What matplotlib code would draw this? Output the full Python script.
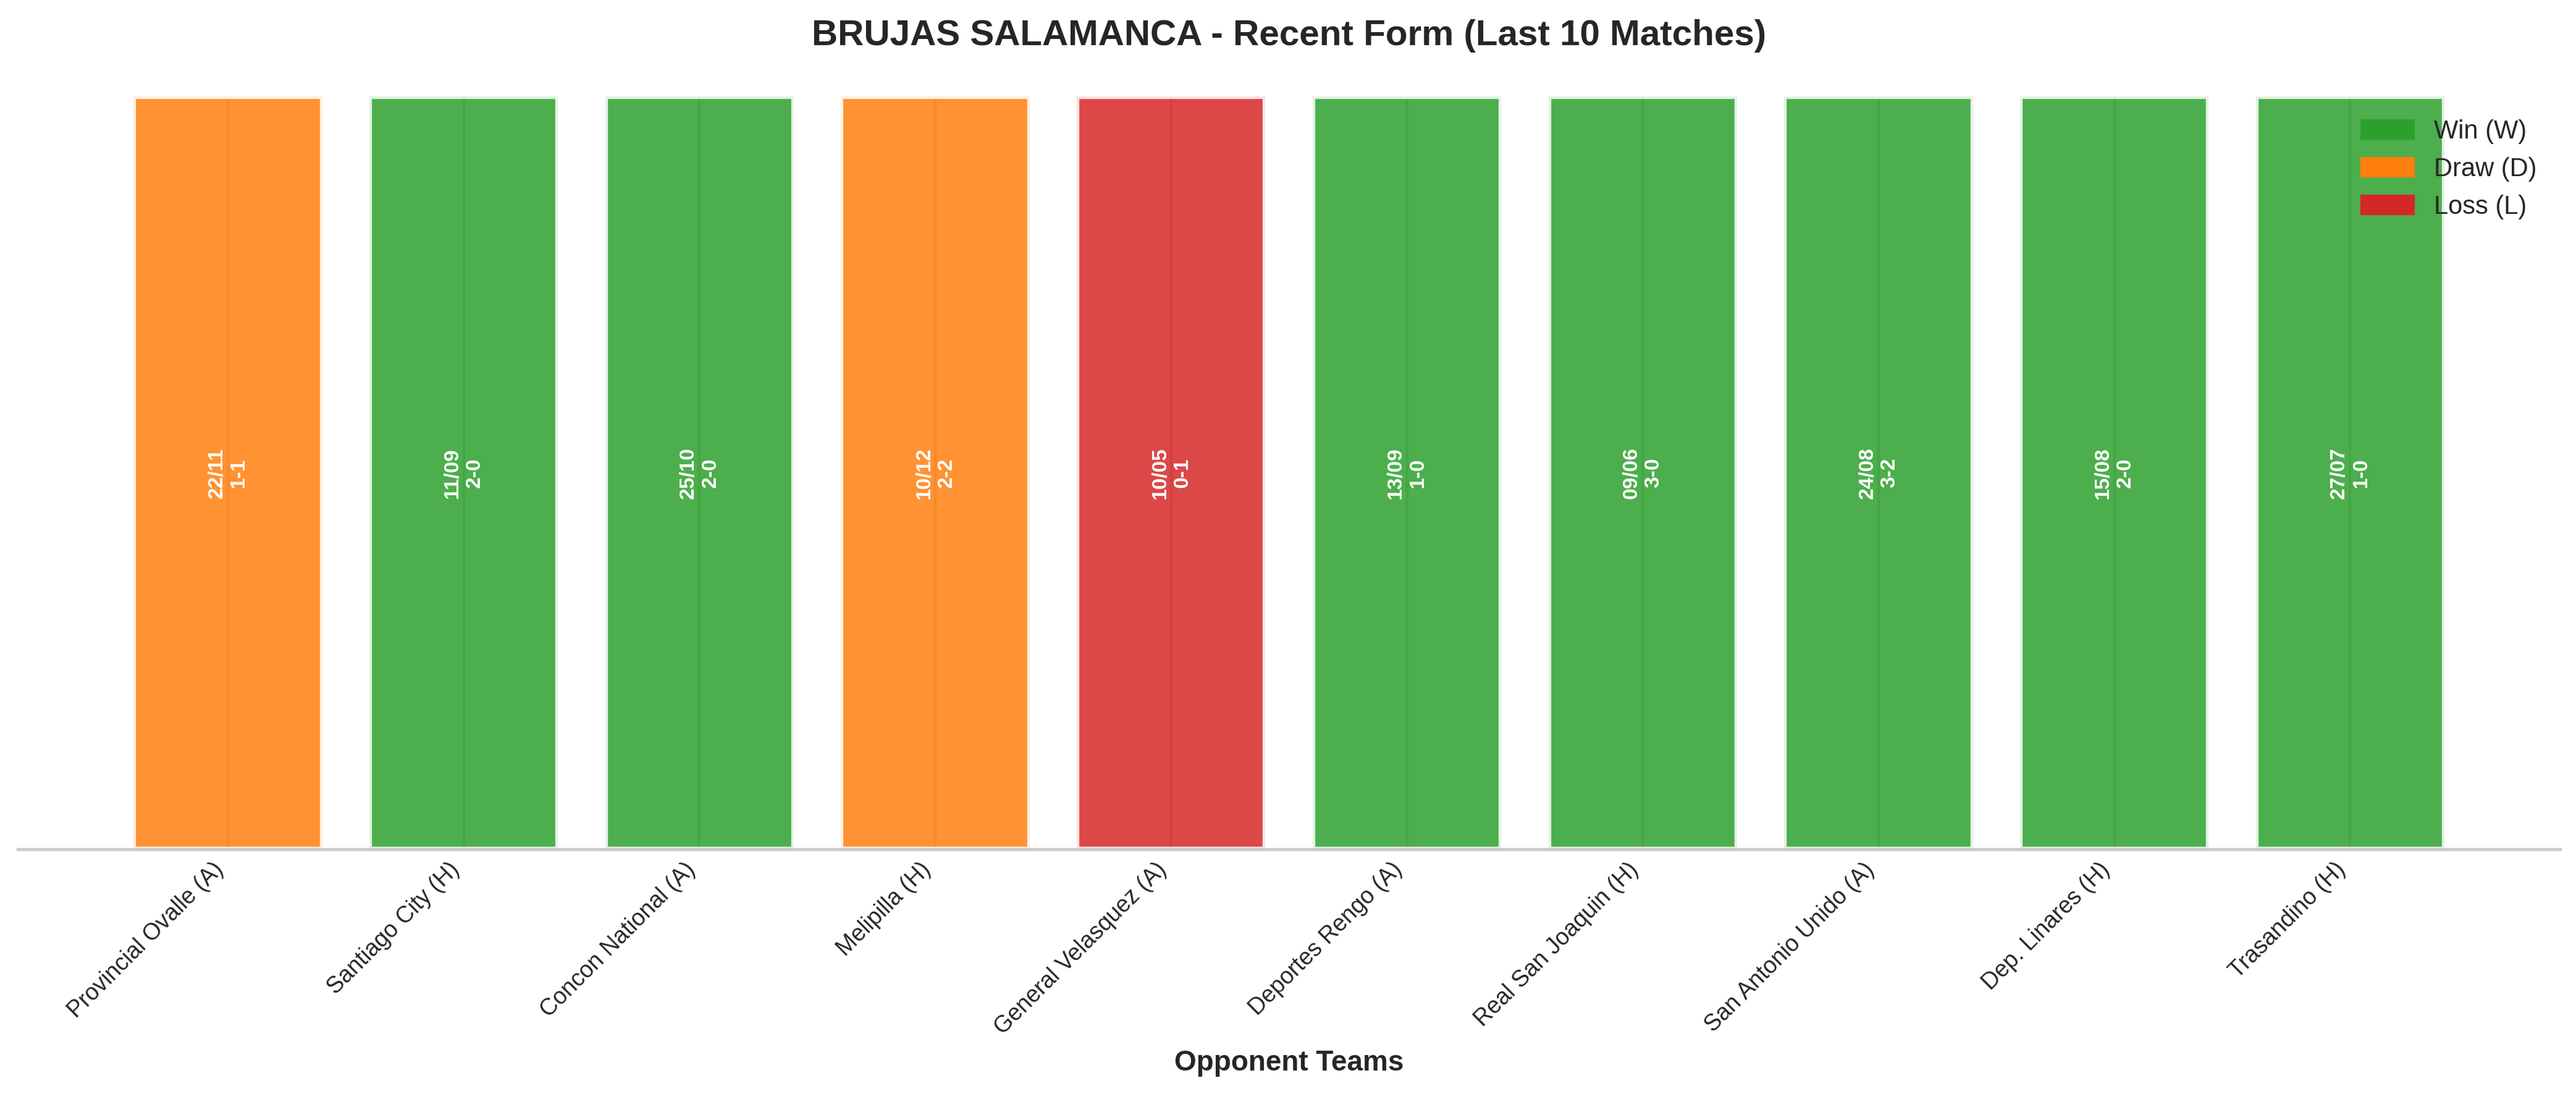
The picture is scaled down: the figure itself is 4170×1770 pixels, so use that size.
import matplotlib
matplotlib.use("Agg")
import matplotlib.pyplot as plt
import seaborn as sns
from matplotlib.patches import Patch

sns.set_theme(style="whitegrid")
plt.rcParams['font.family'] = ['Liberation Sans', 'DejaVu Sans']

# last 10 matches, most recent first
opponents = ["Provincial Ovalle (A)", "Santiago City (H)", "Concon National (A)",
             "Melipilla (H)", "General Velasquez (A)", "Deportes Rengo (A)",
             "Real San Joaquin (H)", "San Antonio Unido (A)", "Dep. Linares (H)",
             "Trasandino (H)"]
dates = ["22/11", "11/09", "25/10", "10/12", "10/05", "13/09", "09/06", "24/08", "15/08", "27/07"]
scores = ["1-1", "2-0", "2-0", "2-2", "0-1", "1-0", "3-0", "3-2", "2-0", "1-0"]
results = ["D", "W", "W", "D", "L", "W", "W", "W", "W", "W"]
heights = [1, 1, 1, 1, 1, 1, 1, 1, 1, 1]

result_colors = {"W": "#2ca02c", "D": "#ff7f0e", "L": "#d62728"}
colors = [result_colors[r] for r in results]

fig = plt.figure(figsize=(13.9, 5.9), dpi=300)
ax = fig.add_axes([0.007, 0.2237, 0.9868, 0.6882])

x = list(range(len(opponents)))
bars = ax.bar(x, heights, color=colors, alpha=0.85, edgecolor="white", linewidth=2)

for i, b in enumerate(bars):
    ax.text(b.get_x() + b.get_width() / 2, b.get_height() / 2,
            f"{dates[i]}\n{scores[i]}", ha="center", va="center", rotation=90,
            color="white", fontsize=8, fontweight="bold")

ax.set_ylim(0, 1)
ax.set_yticks([])
ax.set_xticks(x)
ax.set_xticklabels(opponents, rotation=45, ha="right", fontsize=9)
ax.set_xlabel("Opponent Teams", fontsize=11, fontweight="bold")
ax.set_title("BRUJAS SALAMANCA - Recent Form (Last 10 Matches)", fontsize=14,
             fontweight="bold", pad=20)
ax.tick_params(axis="x", length=0)
for s in ["top", "right", "left"]:
    ax.spines[s].set_visible(False)

handles = [Patch(color=result_colors["W"], label="Win (W)"),
           Patch(color=result_colors["D"], label="Draw (D)"),
           Patch(color=result_colors["L"], label="Loss (L)")]
ax.legend(handles=handles, loc="upper right", fontsize=10, frameon=False)

fig.savefig("out.png", dpi=300)
